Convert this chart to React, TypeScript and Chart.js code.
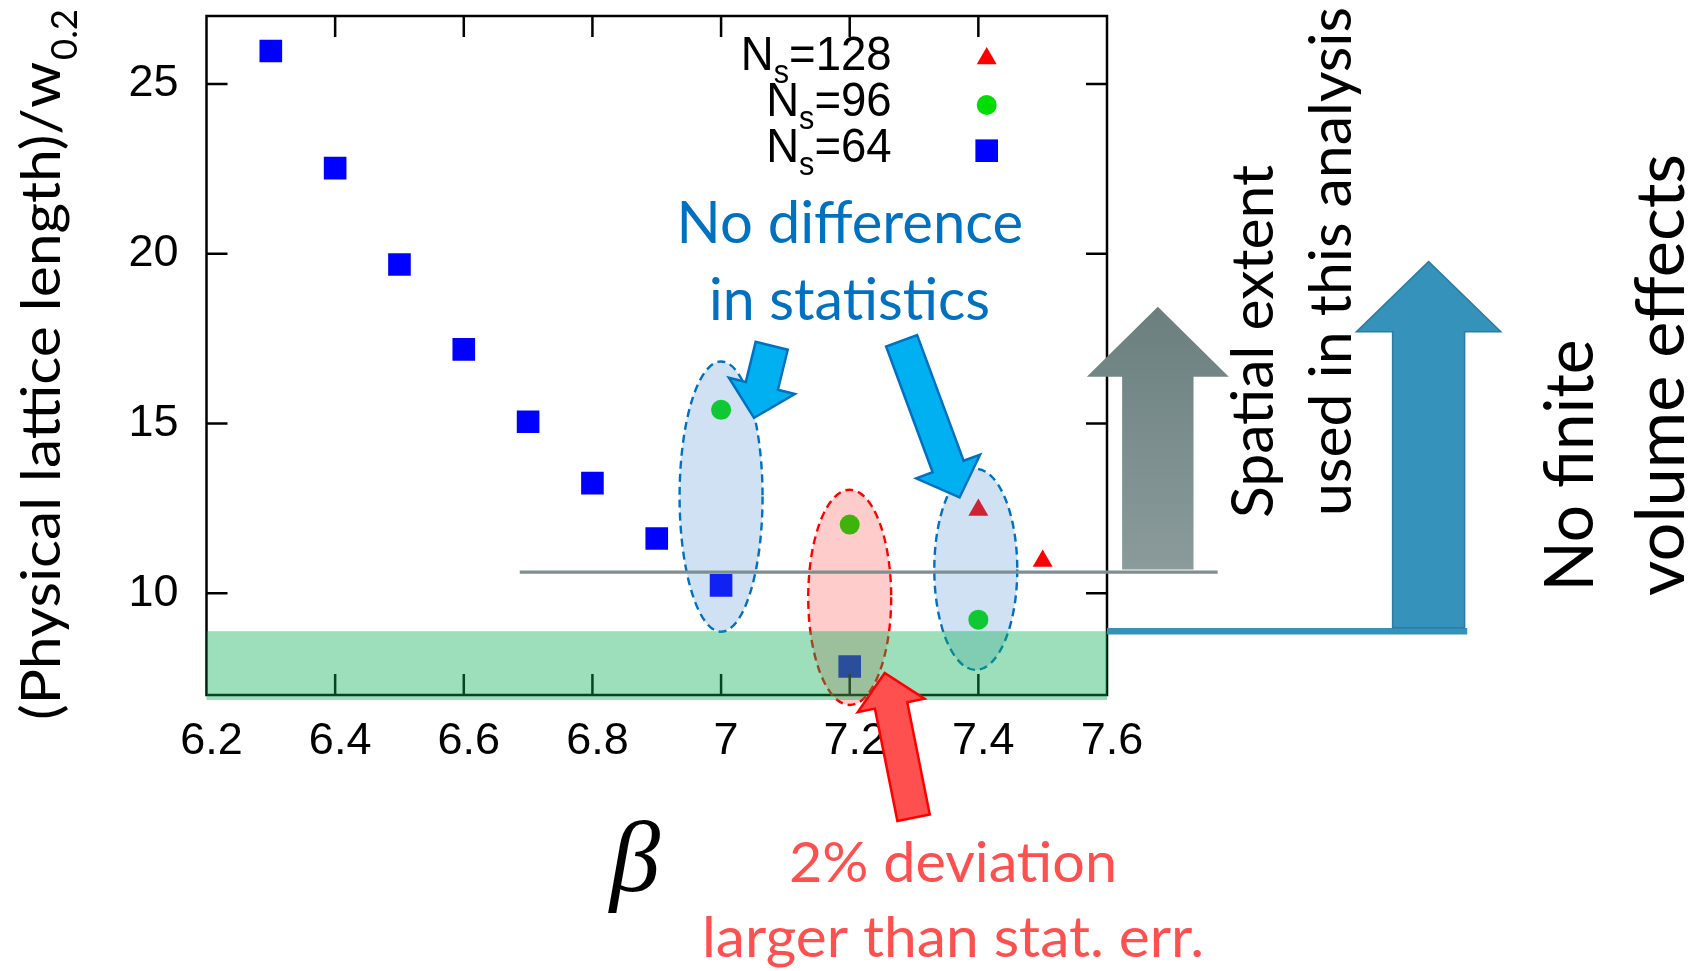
import React, { useEffect, useRef } from 'react';
import { Chart, registerables } from 'chart.js';
Chart.register(...registerables);

// ---- axis ticks ----
const xTickValues = [6.2, 6.4, 6.6, 6.8, 7.0, 7.2, 7.4, 7.6];
const xTickLabels = ['6.2', '6.4', '6.6', '6.8', '7', '7.2', '7.4', '7.6'];
const yTickValues = [10, 15, 20, 25];
const yTickLabels = ['10', '15', '20', '25'];

// ---- series ----
const seriesNames = ['N_s=128', 'N_s=96', 'N_s=64'];
const beta128 = [7.4, 7.5];
const len128 = [12.45, 10.95];
const beta96 = [7.0, 7.2, 7.4];
const len96 = [15.4, 12.02, 9.22];
const beta64 = [6.3, 6.4, 6.5, 6.6, 6.7, 6.8, 6.9, 7.0, 7.2];
const len64 = [25.97, 22.52, 19.68, 17.18, 15.05, 13.24, 11.61, 10.23, 7.84];

// ---- annotation anchors (data coordinates) ----
const bandTopValue = 8.88;
const usedLine = { from: 6.687, to: 7.772, value: 10.62 };
const noFvLine = { from: 7.6, to: 8.16, value: 8.88 };
const ellipseCenters = [
  { beta: 7.0, value: 12.845, rb: 0.0645, rv: 3.98, kind: 'blue' },
  { beta: 7.2, value: 9.877, rb: 0.0645, rv: 3.17, kind: 'red' },
  { beta: 7.396, value: 10.7, rb: 0.0645, rv: 2.96, kind: 'blue' },
];
const arrowsData = [
  { tb: 7.0787, tv: 17.287, hb: 7.0512, hv: 15.162, kind: 'cyan' },
  { tb: 7.2807, tv: 17.434, hb: 7.3708, hv: 12.819, kind: 'cyan' },
  { tb: 7.2993, tv: 3.385, hb: 7.2543, hv: 7.647, kind: 'red' },
  { tb: 7.679, tv: 10.70, hb: 7.679, hv: 18.433, kind: 'gray' },
  { tb: 8.1, tv: 8.978, hb: 8.1, hv: 19.764, kind: 'teal' },
];

const CAL = 'Lato, "Open Sans", sans-serif';
const HEL = '"Liberation Sans", Arial, sans-serif';

type TextSpec = { text: string; x: number; y: number; size: number; width: number; color: string; rot: number; align: CanvasTextAlign; family: string; style?: string };
const texts: TextSpec[] = [
  { text: 'No difference', x: 849.8, y: 243.3, size: 58, width: 346.5, color: '#0070c0', rot: 0, align: 'center', family: CAL },
  { text: 'in statistics', x: 849.5, y: 320, size: 58, width: 281, color: '#0070c0', rot: 0, align: 'center', family: CAL },
  { text: '2% deviation', x: 953, y: 881.7, size: 56, width: 328, color: '#ff5050', rot: 0, align: 'center', family: CAL },
  { text: 'larger than stat. err.', x: 953, y: 956.7, size: 56, width: 502, color: '#ff5050', rot: 0, align: 'center', family: CAL },
  { text: 'Spatial extent', x: 1272.7, y: 518, size: 58, width: 353, color: '#000', rot: -Math.PI / 2, align: 'left', family: CAL },
  { text: 'used in this analysis', x: 1351.4, y: 516, size: 58, width: 509, color: '#000', rot: -Math.PI / 2, align: 'left', family: CAL },
  { text: 'No finite', x: 1593.3, y: 591.5, size: 67, width: 252, color: '#000', rot: -Math.PI / 2, align: 'left', family: CAL },
  { text: 'volume effects', x: 1683.5, y: 596, size: 67, width: 442, color: '#000', rot: -Math.PI / 2, align: 'left', family: CAL },
  { text: '(Physical lattice length)/w', x: 60, y: 720, size: 54, width: 658, color: '#000', rot: -Math.PI / 2, align: 'left', family: CAL },
  { text: '0.2', x: 76.5, y: 60, size: 37, width: 51, color: '#000', rot: -Math.PI / 2, align: 'left', family: CAL },
  { text: 'β', x: 635, y: 891, size: 101, width: 0, color: '#000', rot: 0, align: 'center', family: '"Liberation Serif", "DejaVu Serif", serif', style: 'italic' },
];

function drawText(ctx: CanvasRenderingContext2D, t: TextSpec) {
  ctx.save();
  ctx.font = `${t.style || 'normal'} ${t.size}px ${t.family}`;
  const w = ctx.measureText(t.text).width;
  const sx = t.width ? t.width / w : 1;
  ctx.translate(t.x, t.y);
  if (t.rot) ctx.rotate(t.rot);
  ctx.scale(sx, 1);
  ctx.textAlign = t.align;
  ctx.textBaseline = 'alphabetic';
  ctx.fillStyle = t.color;
  ctx.fillText(t.text, 0, 0);
  ctx.restore();
}

function blockArrow(ctx: CanvasRenderingContext2D, tx: number, ty: number, hx: number, hy: number, sw: number, hw: number, hl: number) {
  const dx = hx - tx, dy = hy - ty;
  const L = Math.hypot(dx, dy);
  const ux = dx / L, uy = dy / L;
  const nx = -uy, ny = ux;
  const bx = hx - ux * hl, by = hy - uy * hl;
  ctx.beginPath();
  ctx.moveTo(tx + nx * sw / 2, ty + ny * sw / 2);
  ctx.lineTo(bx + nx * sw / 2, by + ny * sw / 2);
  ctx.lineTo(bx + nx * hw / 2, by + ny * hw / 2);
  ctx.lineTo(hx, hy);
  ctx.lineTo(bx - nx * hw / 2, by - ny * hw / 2);
  ctx.lineTo(bx - nx * sw / 2, by - ny * sw / 2);
  ctx.lineTo(tx - nx * sw / 2, ty - ny * sw / 2);
  ctx.closePath();
}

function drawMarker(ctx: CanvasRenderingContext2D, style: string, x: number, y: number, r: number, color: string) {
  ctx.beginPath();
  if (style === 'triangle') {
    ctx.moveTo(x, y - r);
    ctx.lineTo(x + 0.866 * r, y + 0.5 * r);
    ctx.lineTo(x - 0.866 * r, y + 0.5 * r);
    ctx.closePath();
  } else if (style === 'circle') {
    ctx.arc(x, y, r, 0, Math.PI * 2);
  } else {
    const s = Math.SQRT1_2 * r;
    ctx.rect(x - s, y - s, 2 * s, 2 * s);
  }
  ctx.fillStyle = color;
  ctx.fill();
}

const overlayPlugin = {
  id: 'overlay',
  afterDatasetsDraw(chart: any) {
    const ctx: CanvasRenderingContext2D = chart.ctx;
    const xs = chart.scales.x, ys = chart.scales.y;
    const a = chart.chartArea;
    const px = (b: number) => xs.getPixelForValue(b);
    const py = (v: number) => ys.getPixelForValue(v);
    ctx.save();

    // frame + inward ticks (gnuplot style)
    ctx.strokeStyle = '#000';
    ctx.lineWidth = 2.5;
    ctx.strokeRect(a.left, a.top, a.right - a.left, a.bottom - a.top);
    const tl = 21;
    ctx.beginPath();
    xs.ticks.forEach((t: any) => {
      const x = px(t.value);
      if (x <= a.left + 1 || x >= a.right - 1) return;
      ctx.moveTo(x, a.bottom); ctx.lineTo(x, a.bottom - tl);
      ctx.moveTo(x, a.top); ctx.lineTo(x, a.top + tl);
    });
    ys.ticks.forEach((t: any) => {
      const y = py(t.value);
      ctx.moveTo(a.left, y); ctx.lineTo(a.left + tl, y);
      ctx.moveTo(a.right, y); ctx.lineTo(a.right - tl, y);
    });
    ctx.stroke();

    // ellipses
    ellipseCenters.forEach(e => {
      const cx = px(e.beta), cy = py(e.value);
      const rx = Math.abs(px(e.beta + e.rb) - cx), ry = Math.abs(py(e.value + e.rv) - cy);
      ctx.beginPath();
      ctx.ellipse(cx, cy, rx, ry, 0, 0, Math.PI * 2);
      ctx.fillStyle = e.kind === 'red' ? 'rgba(255,51,51,0.25)' : 'rgba(63,135,207,0.25)';
      ctx.fill();
      ctx.setLineDash([8, 5]);
      ctx.lineWidth = 2.4;
      ctx.strokeStyle = e.kind === 'red' ? '#ff0000' : '#0070c0';
      ctx.stroke();
      ctx.setLineDash([]);
    });

    // green band
    const bt = py(bandTopValue);
    ctx.fillStyle = 'rgba(10,175,85,0.4)';
    ctx.fillRect(a.left, bt, a.right - a.left, a.bottom + 5 - bt);

    // horizontal reference lines
    ctx.strokeStyle = '#7f8f8f';
    ctx.lineWidth = 3.3;
    ctx.beginPath();
    ctx.moveTo(px(usedLine.from), py(usedLine.value));
    ctx.lineTo(px(usedLine.to), py(usedLine.value));
    ctx.stroke();
    ctx.strokeStyle = '#3592bb';
    ctx.lineWidth = 6.5;
    ctx.beginPath();
    ctx.moveTo(px(noFvLine.from), py(noFvLine.value));
    ctx.lineTo(px(noFvLine.to), py(noFvLine.value));
    ctx.stroke();

    // arrows
    arrowsData.forEach(ar => {
      const tx = px(ar.tb), ty = py(ar.tv), hx = px(ar.hb), hy = py(ar.hv);
      if (ar.kind === 'gray') {
        blockArrow(ctx, tx, ty, hx, hy, 71.4, 142, 70);
        const g = ctx.createLinearGradient(0, hy, 0, ty);
        g.addColorStop(0, '#6b7f7f');
        g.addColorStop(1, '#8b9b9b');
        ctx.fillStyle = g;
        ctx.fill();
      } else if (ar.kind === 'teal') {
        blockArrow(ctx, tx, ty, hx, hy, 72, 144.4, 70);
        ctx.fillStyle = '#3592ba';
        ctx.fill();
        ctx.strokeStyle = '#2e7aa0';
        ctx.lineWidth = 1.5;
        ctx.stroke();
      } else {
        blockArrow(ctx, tx, ty, hx, hy, 33, 68, 33);
        ctx.fillStyle = ar.kind === 'red' ? '#ff5050' : '#00b0f0';
        ctx.fill();
        ctx.strokeStyle = ar.kind === 'red' ? '#ff0000' : '#0070c0';
        ctx.lineWidth = 2.5;
        ctx.lineJoin = 'miter';
        ctx.stroke();
      }
    });

    // texts
    texts.forEach(t => drawText(ctx, t));

    // legend (gnuplot style, labels right-aligned, markers right)
    const rowsBase = [70, 115.5, 161.5];
    const markerY = [58.5, 105, 150.7];
    const sx = 0.93;
    chart.data.datasets.forEach((ds: any, i: number) => {
      const label: string = ds.label;
      const m = label.match(/^(\w)_(\w)(.*)$/);
      const main = m ? m[1] : label, sub = m ? m[2] : '', rest = m ? m[3] : '';
      ctx.save();
      ctx.fillStyle = '#000';
      ctx.textBaseline = 'alphabetic';
      ctx.textAlign = 'left';
      ctx.font = `49px ${HEL}`;
      const wm = ctx.measureText(main).width;
      const wr = ctx.measureText(rest).width;
      ctx.font = `33px ${HEL}`;
      const ws = ctx.measureText(sub).width;
      const total = (wm + ws + wr) * sx;
      ctx.translate(891.7 - total, rowsBase[i]);
      ctx.scale(sx, 1);
      ctx.font = `49px ${HEL}`;
      ctx.fillText(main, 0, 0);
      ctx.fillText(rest, wm + ws, 0);
      ctx.font = `33px ${HEL}`;
      ctx.fillText(sub, wm, 13);
      ctx.restore();
      drawMarker(ctx, ds.pointStyle, 986.7, markerY[i], ds.pointRadius, ds.backgroundColor);
    });

    ctx.restore();
  },
};

export default function App() {
  const ref = useRef<HTMLCanvasElement>(null);
  useEffect(() => {
    const canvas = ref.current!;
    const chart = new Chart(canvas, {
      type: 'scatter',
      data: {
        datasets: [
          { label: seriesNames[0], data: beta128.map((b, i) => ({ x: b, y: len128[i] })), pointStyle: 'triangle', pointRadius: 11.5, backgroundColor: '#ff0000', borderWidth: 0 },
          { label: seriesNames[1], data: beta96.map((b, i) => ({ x: b, y: len96[i] })), pointStyle: 'circle', pointRadius: 10, backgroundColor: '#00dd00', borderWidth: 0 },
          { label: seriesNames[2], data: beta64.map((b, i) => ({ x: b, y: len64[i] })), pointStyle: 'rect', pointRadius: 16, backgroundColor: '#0000ff', borderWidth: 0 },
        ] as any,
      },
      options: {
        responsive: false,
        animation: false,
        devicePixelRatio: 1,
        events: [],
        layout: { padding: { left: 0, top: 14.5, right: 595, bottom: 0 } },
        plugins: { legend: { display: false }, tooltip: { enabled: false } },
        scales: {
          x: {
            type: 'linear', min: 6.2, max: 7.6,
            grid: { display: false }, border: { display: false },
            afterBuildTicks: (s: any) => { s.ticks = xTickValues.map(v => ({ value: v })); },
            afterFit: (s: any) => { s.height = 276; s.paddingLeft = 0; s.paddingRight = 0; },
            ticks: {
              autoSkip: false, maxRotation: 0, minRotation: 0, padding: 12, labelOffset: 5, color: '#000',
              font: { family: HEL, size: 45 },
              callback: (_v: any, i: number) => xTickLabels[i],
            },
          },
          y: {
            type: 'linear', min: 7, max: 27,
            grid: { display: false }, border: { display: false },
            afterBuildTicks: (s: any) => { s.ticks = yTickValues.map(v => ({ value: v })); },
            afterFit: (s: any) => { s.width = 206.5; s.paddingTop = 0; s.paddingBottom = 0; },
            ticks: {
              autoSkip: false, padding: 20, color: '#000',
              font: { family: HEL, size: 45 },
              callback: (_v: any, i: number) => yTickLabels[i],
            },
          },
        },
      } as any,
      plugins: [overlayPlugin],
    });
    return () => chart.destroy();
  }, []);
  return (
    <div style={{ position: 'fixed', left: 0, top: 0, width: 1702, height: 971, background: '#fff' }}>
      <canvas ref={ref} width={1702} height={971} style={{ display: 'block', width: 1702, height: 971 }} />
    </div>
  );
}
